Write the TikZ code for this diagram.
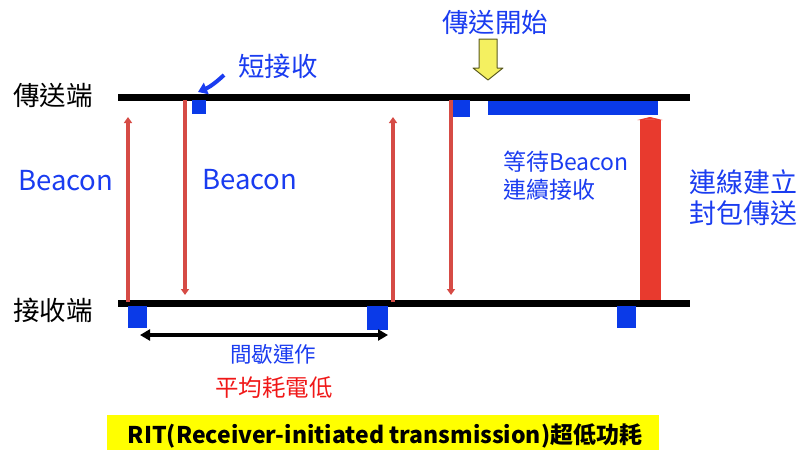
\documentclass[tikz,border=0pt]{standalone}
\usepackage{fontspec}
\setmainfont{Noto Sans CJK TC}
\usetikzlibrary{arrows.meta}
\definecolor{tblue}{HTML}{1A3CF0}
\definecolor{sqblue}{HTML}{0A3AE8}
\definecolor{ared}{HTML}{D64B45}
\definecolor{tred}{HTML}{F01818}
\definecolor{thickred}{HTML}{E83A2E}
\definecolor{ylw}{HTML}{FFFF00}
\definecolor{yarrow}{HTML}{F4F060}
\definecolor{yedge}{HTML}{5A5A20}
\begin{document}
\begin{tikzpicture}[x=1pt,y=-1pt,
  lbl/.style={inner sep=0pt,font=\fontsize{26.5}{28}\selectfont},
  bluelbl/.style={lbl,text=tblue},
  timeline/.style={line width=7pt},
  sq/.style={fill=sqblue,draw=none},
  beaconarrow/.style={ared,line width=3.5pt,-{Triangle[width=8pt,length=6pt]}},
]
\useasboundingbox (0,0) rectangle (811,450);
% timelines
\coordinate (tL) at (118,97); \coordinate (tR) at (690,97);
\coordinate (bL) at (118,303); \coordinate (bR) at (690,303);
\draw[timeline] (tL) -- (tR);
\draw[timeline] (bL) -- (bR);
% labels of lines
\node[lbl,anchor=west] (snd) at (13,95) {傳送端};
\node[lbl,anchor=west] (rcv) at (13,310) {接收端};
% blue squares top
\fill[sq] (192,100) rectangle (206,114);
\fill[sq] (449,100) rectangle (470,117);
\fill[sq] (488,101) rectangle (658,115);
% blue squares bottom
\fill[sq] (128,306) rectangle (147,328);
\fill[sq] (367,306) rectangle (388,330);
\fill[sq] (617,306) rectangle (636,328);
% red arrows
\coordinate (a1s) at (128,302); \coordinate (a1e) at (128,117);
\coordinate (a2s) at (185,100); \coordinate (a2e) at (185,295);
\coordinate (a3s) at (393,302); \coordinate (a3e) at (393,117);
\coordinate (a4s) at (451,100); \coordinate (a4e) at (451,295);
\draw[beaconarrow] (a1s) -- (a1e);
\draw[beaconarrow] (a2s) -- (a2e);
\draw[beaconarrow] (a3s) -- (a3e);
\draw[beaconarrow] (a4s) -- (a4e);
\coordinate (a5s) at (650,300); \coordinate (a5e) at (650,117);
\draw[thickred,line width=21pt,-{Triangle[width=25pt,length=3pt]}] (a5s) -- (a5e);
% beacon labels
\node[bluelbl,anchor=west,font=\fontsize{27.5}{29}\selectfont] (b1) at (18,181) {Beacon};
\node[bluelbl,anchor=west,font=\fontsize{27.5}{29}\selectfont] (b2) at (202,180) {Beacon};
% short receive
\node[bluelbl] (short) at (278,66) {短接收};
\coordinate (sa) at (224,75); \coordinate (se) at (198,92);
\draw[tblue,line width=4pt,-{Triangle[width=12pt,length=9pt]}] (sa) to[bend left=10] (se);
% transmission start
\node[bluelbl] (start) at (495,22) {傳送開始};
\draw[yedge,fill=yarrow,line width=1pt,line join=round]
  (479,39) -- (497,39) -- (497,68) -- (503,68) -- (488,80) -- (473,68) -- (479,68) -- cycle;
% waiting text
\node[bluelbl,anchor=west,font=\fontsize{23}{25}\selectfont] (wait1) at (503,162) {等待Beacon};
\node[bluelbl,anchor=west,font=\fontsize{23}{25}\selectfont] (wait2) at (503,190) {連續接收};
\node[bluelbl,anchor=west,font=\fontsize{27}{29}\selectfont] (conn1) at (689,182) {連線建立};
\node[bluelbl,anchor=west,font=\fontsize{27}{29}\selectfont] (conn2) at (689,213) {封包傳送};
% interval arrow
\coordinate (il) at (140,335); \coordinate (ir) at (388,335);
\draw[line width=3.5pt,{Triangle[width=11pt,length=10pt]}-{Triangle[width=11pt,length=10pt]}] (il) -- (ir);
\node[bluelbl,font=\fontsize{21.5}{23}\selectfont] (intv) at (273,354) {間歇運作};
\node[lbl,text=tred,font=\fontsize{23.5}{25}\selectfont] (avg) at (274,388) {平均耗電低};
% bottom banner
\fill[ylw] (107,415) rectangle (659,450);
\node[lbl,font=\fontsize{23}{25}\selectfont\bfseries] (rit) at (385,436) {RIT(Receiver-initiated transmission)超低功耗};
\end{tikzpicture}
\end{document}
